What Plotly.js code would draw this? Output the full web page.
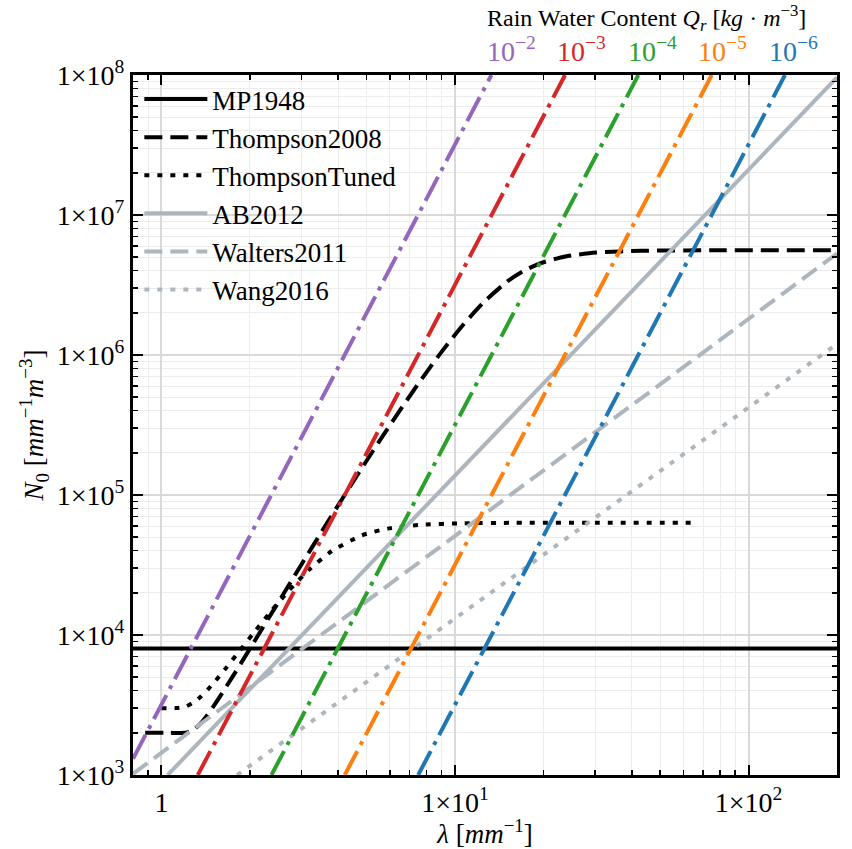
<!DOCTYPE html>
<html>
<head>
<meta charset="utf-8">
<script src="https://cdn.plot.ly/plotly-3.0.1.min.js"></script>
<style>html,body{margin:0;padding:0;background:#fff;}</style>
</head>
<body>
<div id="chart" style="width:852px;height:849px;"></div>
<script>
// ---- data ----
const lamMP = [0.8, 200];
const n0MP = [8000, 8000];

const lamThompson2008 = [0.88, 1.06, 1.204, 1.268, 1.378, 1.432, 1.506, 1.608, 1.745, 1.924, 2.15, 2.429, 2.767, 3.171, 3.651, 4.219, 4.89, 5.684, 6.623, 7.738, 9.065, 10.66, 12.62, 15.2, 16.95, 19.39, 23.75, 30.33, 43.2, 77.0, 200];
const n0Thompson2008 = [2000, 2000, 2004, 2055, 2410, 2673, 3110, 3831, 5019, 6976, 10200, 15500, 24250, 38600, 62200, 100900, 163800, 265800, 428700, 684600, 1.075e6, 1.644e6, 2.422e6, 3.399e6, 3.942e6, 4.501e6, 5.06e6, 5.389e6, 5.55e6, 5.598e6, 5.603e6];

const lamThompsonTuned = [1.0, 1.12, 1.212, 1.312, 1.365, 1.437, 1.533, 1.663, 1.836, 2.062, 2.35, 2.713, 3.174, 3.795, 4.819, 5.892, 7.52, 10.71, 16.04, 30, 66.7];
const n0ThompsonTuned = [3000, 3007, 3088, 3395, 3649, 4066, 4745, 5843, 7600, 10360, 14560, 20700, 29090, 39620, 51500, 57530, 61070, 62810, 63270, 63370, 63380];

const lamAB2012 = [1.05, 200];
const n0AB2012 = [1000, 9.6e7];

const lamWalters2011 = [0.8, 200];
const n0Walters2011 = [1020, 5.3e6];

const lamWang2016 = [1.81, 200];
const n0Wang2016 = [1000, 1.2e6];

// rain water content lines Qr = 1e-2 ... 1e-6 kg m^-3
const qNames = ['Qr=1e-2', 'Qr=1e-3', 'Qr=1e-4', 'Qr=1e-5', 'Qr=1e-6'];
const qLabels = ['10<sup>\u22122</sup>', '10<sup>\u22123</sup>', '10<sup>\u22124</sup>', '10<sup>\u22125</sup>', '10<sup>\u22126</sup>'];
const qLamStart = [0.8, 1.33, 2.37, 4.21, 7.49];
const qN0Start = [1304, 1000, 1000, 1000, 1000];
const qLamEnd = [13.3, 23.7, 42.1, 74.9, 133];
const qN0End = [1e8, 1e8, 1e8, 1e8, 1e8];

const xTickVals = [1, 10, 100];
const xTickText = ['1', '1\u00d710<sup>1</sup>', '1\u00d710<sup>2</sup>'];
const yTickVals = [1e3, 1e4, 1e5, 1e6, 1e7, 1e8];
const yTickText = ['1\u00d710<sup>3</sup>', '1\u00d710<sup>4</sup>', '1\u00d710<sup>5</sup>', '1\u00d710<sup>6</sup>', '1\u00d710<sup>7</sup>', '1\u00d710<sup>8</sup>'];

// ---- styling ----
const FONT = 'Liberation Serif, Times New Roman, serif';
const GRAY = '#adb5bd';
const qColors = ['#9467bd', '#d62728', '#2ca02c', '#ff7f0e', '#1f77b4'];
const LW = 4;
const DASH = '18px,8px';
const DOT = '5px,8px';
const DASHDOT = '27px,7px,4px,7px';

function minorVals(lo, hi) {
  const v = [];
  for (let e = lo; e <= hi; e++) {
    for (let m = 2; m <= 9; m++) v.push(m * Math.pow(10, e));
  }
  return v;
}

const traces = [
  {x: lamMP, y: n0MP, name: 'MP1948', mode: 'lines', line: {color: 'black', width: LW}},
  {x: lamThompson2008, y: n0Thompson2008, name: 'Thompson2008', mode: 'lines', line: {color: 'black', width: LW, dash: DASH, shape: 'spline', smoothing: 0.6}},
  {x: lamThompsonTuned, y: n0ThompsonTuned, name: 'ThompsonTuned', mode: 'lines', line: {color: 'black', width: LW, dash: DOT, shape: 'spline', smoothing: 0.6}},
  {x: lamAB2012, y: n0AB2012, name: 'AB2012', mode: 'lines', line: {color: GRAY, width: LW}},
  {x: lamWalters2011, y: n0Walters2011, name: 'Walters2011', mode: 'lines', line: {color: GRAY, width: LW, dash: DASH}},
  {x: lamWang2016, y: n0Wang2016, name: 'Wang2016', mode: 'lines', line: {color: GRAY, width: LW, dash: DOT}}
];
for (let i = 0; i < qNames.length; i++) {
  traces.push({
    x: [qLamStart[i], qLamEnd[i]], y: [qN0Start[i], qN0End[i]],
    name: qNames[i], mode: 'lines', showlegend: false,
    line: {color: qColors[i], width: LW, dash: DASHDOT}
  });
}

const annotations = [{
  xref: 'paper', yref: 'paper', x: 0.5, y: 1.081, xanchor: 'left', yanchor: 'middle',
  text: 'Rain Water Content <i>Q</i><sub><i>r</i></sub> [<i>kg</i> \u00b7 <i>m</i><sup>\u22123</sup>]',
  showarrow: false, font: {family: FONT, size: 24, color: 'black'}
}];
const qLabelX = [0.5, 0.6, 0.7, 0.8, 0.9];
for (let i = 0; i < qLabels.length; i++) {
  annotations.push({
    xref: 'paper', yref: 'paper', x: qLabelX[i], y: 1.036, xanchor: 'left', yanchor: 'middle',
    text: qLabels[i], showarrow: false, font: {family: FONT, size: 28, color: qColors[i]}
  });
}

const axisCommon = {
  type: 'log', showline: true, linewidth: 3, linecolor: 'black', mirror: 'allticks',
  ticks: 'inside', ticklen: 10, tickwidth: 2, tickcolor: 'black',
  showgrid: true, gridcolor: '#d9d9d9', gridwidth: 2, zeroline: false,
  tickfont: {family: FONT, size: 28, color: 'black'}
};

const layout = {
  width: 852, height: 849,
  margin: {l: 133, r: 15, t: 75, b: 74},
  paper_bgcolor: 'white', plot_bgcolor: 'white',
  font: {family: FONT, color: 'black'},
  showlegend: true,
  legend: {x: 0.009, y: 1.0, xanchor: 'left', yanchor: 'top', bgcolor: 'rgba(0,0,0,0)',
           borderwidth: 0, font: {family: FONT, size: 27, color: 'black'}, itemwidth: 63, traceorder: 'normal'},
  xaxis: Object.assign({}, axisCommon, {
    range: [Math.log10(0.8), Math.log10(200)],
    tickmode: 'array', tickvals: xTickVals, ticktext: xTickText,
    minor: {tickmode: 'array', tickvals: minorVals(-1, 2), ticks: 'inside', ticklen: 5, tickwidth: 1.5, tickcolor: 'black', showgrid: true, gridcolor: '#ececec', gridwidth: 1},
    title: {text: '<i>\u03bb</i> [<i>mm</i><sup>\u22121</sup>]', font: {family: FONT, size: 27}, standoff: 8}
  }),
  yaxis: Object.assign({}, axisCommon, {
    range: [3, 8],
    tickmode: 'array', tickvals: yTickVals, ticktext: yTickText,
    minor: {tickmode: 'array', tickvals: minorVals(3, 7), ticks: 'inside', ticklen: 5, tickwidth: 1.5, tickcolor: 'black', showgrid: true, gridcolor: '#ececec', gridwidth: 1},
    title: {text: '<i>N</i><sub>0</sub> [<i>mm</i><sup>\u22121</sup><i>m</i><sup>\u22123</sup>]', font: {family: FONT, size: 27}, standoff: 6}
  }),
  annotations: annotations
};

Plotly.newPlot('chart', traces, layout, {displayModeBar: false, staticPlot: true});
</script>
</body>
</html>
